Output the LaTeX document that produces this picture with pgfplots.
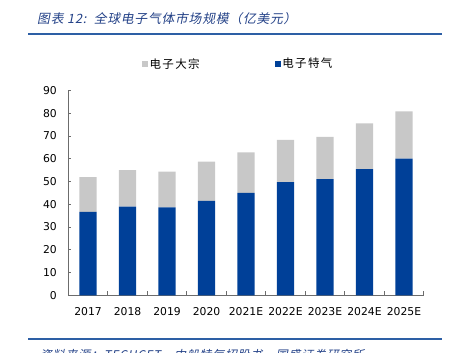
\documentclass[border=0pt]{standalone}
\usepackage{fontspec}
\usepackage{pgfplots}
\pgfplotsset{compat=1.18}
\setmainfont{DejaVu Sans}
\newfontfamily\cjk[LetterSpace=12]{Noto Sans CJK SC}
\newfontfamily\cjkit[FakeSlant=0.2,LetterSpace=6]{Noto Sans CJK SC}
\definecolor{barblue}{RGB}{0,64,152}
\definecolor{bargray}{RGB}{200,200,200}
\definecolor{titleblue}{RGB}{35,65,135}
\definecolor{lineblue}{RGB}{45,95,165}
\begin{document}
\begin{tikzpicture}[x=1bp,y=1bp]
\begin{axis}[
  at={(68.3bp,56.7bp)}, anchor=south west,
  scale only axis, width=355.4bp, height=205bp,
  ybar stacked, bar width=17.4bp,
  xmin=-0.5, xmax=8.5, ymin=0, ymax=90,
  ytick={0,10,...,90},
  xtick={0,...,8},
  xticklabels={2017,2018,2019,2020,2021E,2022E,2023E,2024E,2025E},
  minor xtick={-0.5,0.5,...,8.5},
  every major x tick/.append style={draw=none},
  tick align=inside,
  major tick length=3bp, minor tick length=4bp,
  tick style={draw=gray!85!black, line width=0.6pt},
  axis lines*=left,
  axis line style={-, draw=gray!85!black, line width=0.7pt},
  ticklabel style={font=\fontsize{10.8bp}{12bp}\selectfont, text=black},
  yticklabel style={xshift=-8bp},
  xticklabel style={yshift=-9bp},
  /pgf/number format/assume math mode=true,
  reverse legend,
  legend columns=2,
  legend style={draw=none, fill=none, inner sep=0pt, anchor=west,
    at={(0.208,1.129)},
    font=\cjk\fontsize{11.5bp}{13bp}\selectfont,
    nodes={inner sep=1.5bp},
    /tikz/every even column/.append style={column sep=74bp}},
  legend image code/.code={\fill[#1,draw=none] (0bp,-2.8bp) rectangle (5.6bp,2.8bp);},
]
\addplot[fill=barblue, draw=none] coordinates {(0,36.6) (1,38.9) (2,38.6) (3,41.5) (4,45.0) (5,49.7) (6,51.0) (7,55.4) (8,60.0)};
\addlegendentry{电子特气}
\addplot[fill=bargray, draw=none] coordinates {(0,15.3) (1,16.1) (2,15.7) (3,17.2) (4,17.8) (5,18.5) (6,18.6) (7,20.1) (8,20.8)};
\addlegendentry{电子大宗}
\end{axis}
\node[anchor=west, text=titleblue, font=\cjkit\fontsize{12.8bp}{14bp}\selectfont, inner sep=0pt] at (37,333) {图表 12:\ \ 全球电子气体市场规模（亿美元）};
\draw[lineblue, line width=1.5bp] (28,318) -- (441.7,318);
\draw[lineblue, line width=1.5bp] (28,13) -- (441.7,13);
\node[anchor=base west, text=titleblue, font=\cjkit\fontsize{12bp}{14bp}\selectfont, inner sep=0pt] at (40,-7) {资料来源：TECHCET，中船特气招股书，国盛证券研究所};
\pgfresetboundingbox
\path[use as bounding box] (0,0) rectangle (456,352);
\end{tikzpicture}
\end{document}
